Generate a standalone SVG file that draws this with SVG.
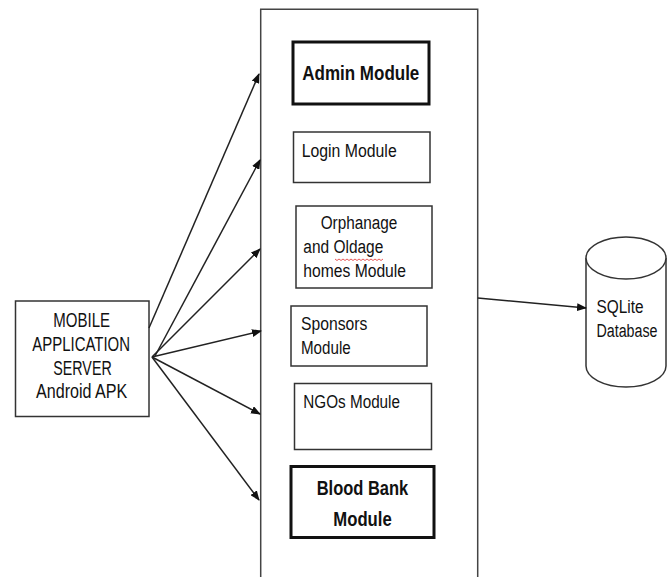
<svg xmlns="http://www.w3.org/2000/svg" width="667" height="577" viewBox="0 0 667 577">
<defs>
<marker id="ah" markerUnits="userSpaceOnUse" markerWidth="10" markerHeight="8" refX="9" refY="4" orient="auto">
<path d="M0,0 L10,4 L0,8 Z" fill="#111"/>
</marker>
</defs>
<style>
.box{fill:#fff;stroke:#333;stroke-width:1.5}
.thick{fill:#fff;stroke:#111;stroke-width:3}
.t{font-family:"Liberation Sans",Arial,sans-serif;font-size:18px;fill:#111}
.tb{font-family:"Liberation Sans",Arial,sans-serif;font-size:20px;font-weight:bold;fill:#111}
.tm{font-family:"Liberation Sans",Arial,sans-serif;font-size:21px;fill:#111}
.c{stroke:#222;stroke-width:1.5;fill:none}
</style>
<rect width="667" height="577" fill="#fff"/>
<g id="panel">
<path d="M260.7,580 V9.3 H477.7 V580" fill="none" stroke="#444" stroke-width="1.5"/>
</g>
<g id="mobile">
<rect x="15.5" y="301" width="133.5" height="115.5" class="box"/>
<text class="tm" x="53.3" y="326.7" textLength="56.7" lengthAdjust="spacingAndGlyphs">MOBILE</text>
<text class="tm" x="32.3" y="351" textLength="97.7" lengthAdjust="spacingAndGlyphs">APPLICATION</text>
<text class="tm" x="53.3" y="375" textLength="58.4" lengthAdjust="spacingAndGlyphs">SERVER</text>
<text class="tm" x="36" y="398.3" textLength="91.3" lengthAdjust="spacingAndGlyphs">Android APK</text>
</g>
<g id="admin">
<rect x="293" y="42" width="136" height="62" class="thick"/>
<text class="tb" x="302.3" y="80" textLength="117" lengthAdjust="spacingAndGlyphs">Admin Module</text>
</g>
<g id="login">
<rect x="293.5" y="132" width="136.5" height="50.5" class="box"/>
<text class="t" x="301.7" y="156.7" textLength="95" lengthAdjust="spacingAndGlyphs">Login Module</text>
</g>
<g id="orphanage">
<rect x="296" y="206" width="136" height="82" class="box"/>
<text class="t" x="320.7" y="229.3" textLength="76.7" lengthAdjust="spacingAndGlyphs">Orphanage</text>
<text class="t" x="303.3" y="253.3" textLength="80" lengthAdjust="spacingAndGlyphs">and Oldage</text>
<text class="t" x="303.3" y="277.3" textLength="102.7" lengthAdjust="spacingAndGlyphs">homes Module</text>
<path d="M335,259 l2,1.5 2,-1.5 2,1.5 2,-1.5 2,1.5 2,-1.5 2,1.5 2,-1.5 2,1.5 2,-1.5 2,1.5 2,-1.5 2,1.5 2,-1.5 2,1.5 2,-1.5 2,1.5 2,-1.5 2,1.5 2,-1.5 2,1.5 2,-1.5 2,1.5 2,-1.5" fill="none" stroke="#e03030" stroke-width="0.8"/>
</g>
<g id="sponsors">
<rect x="291" y="306" width="136" height="60" class="box"/>
<text class="t" x="301" y="330" textLength="66.3" lengthAdjust="spacingAndGlyphs">Sponsors</text>
<text class="t" x="301" y="354.3" textLength="49.7" lengthAdjust="spacingAndGlyphs">Module</text>
</g>
<g id="ngos">
<rect x="294.5" y="383.5" width="137" height="66" class="box"/>
<text class="t" x="303.3" y="407.7" textLength="96.7" lengthAdjust="spacingAndGlyphs">NGOs Module</text>
</g>
<g id="bloodbank">
<rect x="291" y="466.5" width="143" height="71" class="thick"/>
<text class="tb" x="316.7" y="495" textLength="91.6" lengthAdjust="spacingAndGlyphs">Blood Bank</text>
<text class="tb" x="333.3" y="525.7" textLength="58.4" lengthAdjust="spacingAndGlyphs">Module</text>
</g>
<g id="database">
<path d="M586,258 V366 A40,21 0 0 0 666,366 V258" fill="#fff" stroke="#333" stroke-width="1.5"/>
<ellipse cx="626" cy="258" rx="40" ry="21" fill="#fff" stroke="#333" stroke-width="1.5"/>
<text class="t" x="596.5" y="313.3" textLength="47" lengthAdjust="spacingAndGlyphs">SQLite</text>
<text class="t" x="596.5" y="336.7" textLength="61" lengthAdjust="spacingAndGlyphs">Database</text>
</g>
<g id="connectors">
<line class="c" x1="149" y1="328" x2="259" y2="74" marker-end="url(#ah)"/>
<line class="c" x1="155" y1="356" x2="260" y2="160" marker-end="url(#ah)"/>
<line class="c" x1="152" y1="357" x2="260" y2="249" marker-end="url(#ah)"/>
<line class="c" x1="152" y1="357" x2="261" y2="331" marker-end="url(#ah)"/>
<line class="c" x1="152" y1="357" x2="260" y2="414" marker-end="url(#ah)"/>
<line class="c" x1="152" y1="357" x2="259" y2="500" marker-end="url(#ah)"/>
<line class="c" x1="477.7" y1="298" x2="586" y2="308" marker-end="url(#ah)"/>
</g>
</svg>
